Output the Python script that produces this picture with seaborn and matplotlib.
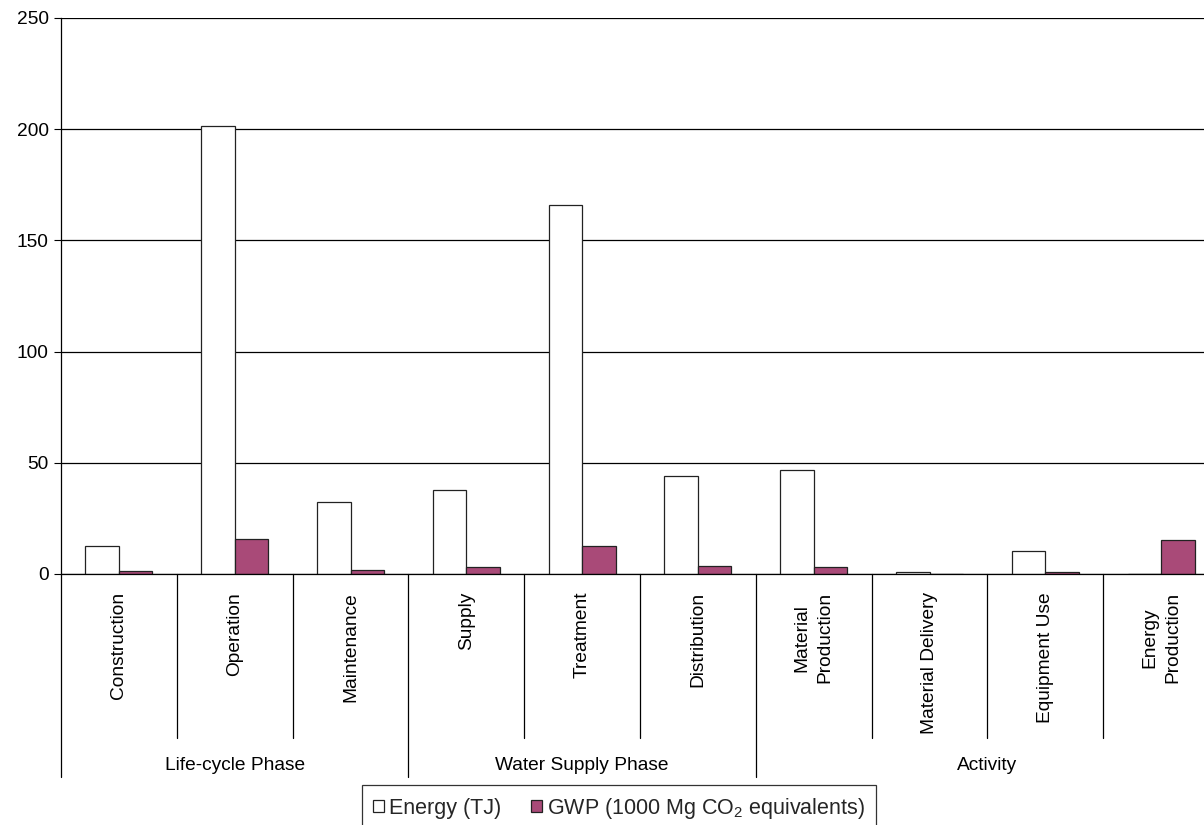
import matplotlib
matplotlib.use("Agg")
import matplotlib.pyplot as plt
import matplotlib.transforms as mtransforms
import seaborn as sns
import pandas as pd

categories = ["Construction", "Operation", "Maintenance", "Supply", "Treatment",
              "Distribution", "Material\nProduction", "Material Delivery",
              "Equipment Use", "Energy\nProduction"]
energy_tj = [12.6, 201.5, 32.3, 37.7, 166.0, 44.0, 46.7, 0.7, 10.2, 0.0]
gwp_1000mg = [1.2, 15.9, 1.8, 3.0, 12.6, 3.6, 3.1, 0.0, 0.7, 15.3]
groups = ["Life-cycle Phase", "Water Supply Phase", "Activity"]
group_spans = [(0, 2), (3, 5), (6, 9)]
series_names = ["Energy (TJ)", "GWP (1000 Mg CO$_2$ equivalents)"]
y_ticks = [0, 50, 100, 150, 200, 250]

sns.set_theme(style="white")
plt.rcParams["font.family"] = ["Liberation Sans", "DejaVu Sans"]
plt.rcParams["mathtext.fontset"] = "custom"
plt.rcParams["mathtext.rm"] = "Liberation Sans"
plt.rcParams["mathtext.it"] = "Liberation Sans:italic"
plt.rcParams["mathtext.bf"] = "Liberation Sans:bold"

PURPLE = "#A94A78"
FS = 13.8

df = pd.DataFrame({
    "category": categories * 2,
    "series": [series_names[0]] * len(categories) + [series_names[1]] * len(categories),
    "value": energy_tj + gwp_1000mg,
})

W, H = 1204, 825
fig = plt.figure(figsize=(W / 100, H / 100), dpi=100)
fig.patch.set_facecolor("white")

ax_left, ax_right, ax_top, ax_bottom = 61, 1219, 18, 574
ax = fig.add_axes([ax_left / W, 1 - ax_bottom / H, (ax_right - ax_left) / W, (ax_bottom - ax_top) / H])

sns.barplot(data=df, x="category", y="value", hue="series", order=categories,
            hue_order=series_names, palette=["white", PURPLE], saturation=1,
            edgecolor="#222222", linewidth=0.9, width=0.58, gap=0,
            ax=ax, legend=False, errorbar=None)

ax.set_xlim(-0.5, len(categories) - 0.5)
ax.set_ylim(0, 250)
ax.set_yticks(y_ticks)
ax.set_xticks([])
ax.set_xlabel("")
ax.set_ylabel("")
ax.tick_params(axis="y", which="both", left=True, length=5, width=0.8, color="black",
               labelsize=FS, labelcolor="black", pad=4)
ax.yaxis.grid(True, color="black", linewidth=0.9)
ax.set_axisbelow(True)
for s in ["top", "right"]:
    ax.spines[s].set_visible(False)
for s in ["left", "bottom"]:
    ax.spines[s].set_visible(True)
    ax.spines[s].set_color("black")
    ax.spines[s].set_linewidth(0.9)

# category axis below the plot
trans = mtransforms.blended_transform_factory(ax.transData, fig.transFigure)
def fy(px):
    return 1 - px / H

for i, lab in enumerate(categories):
    ax.text(i, fy(592), lab, rotation=90, ha="center", va="top", fontsize=FS,
            color="black", transform=trans, multialignment="center", linespacing=1.45)

group_bounds = [s[0] - 0.5 for s in group_spans]
for i in range(len(categories)):
    x = i - 0.5
    bottom = 777 if x in group_bounds else 738
    ax.plot([x, x], [fy(574), fy(bottom)], color="black", linewidth=0.9,
            transform=trans, clip_on=False)

for g, (a, b) in zip(groups, group_spans):
    ax.text((a + b) / 2, fy(766), g, ha="center", va="center", fontsize=FS,
            color="black", transform=trans)

# legend
handles = [plt.Rectangle((0, 0), 1, 1, facecolor="white", edgecolor="#222222", linewidth=0.9),
           plt.Rectangle((0, 0), 1, 1, facecolor=PURPLE, edgecolor="#222222", linewidth=0.9)]
leg = fig.legend(handles, series_names, loc="upper left",
                 bbox_to_anchor=(362 / W, 1 - 785 / H), ncol=2, frameon=True,
                 fancybox=False, edgecolor="black", fontsize=15.5,
                 handlelength=0.5, handleheight=0.5, handletextpad=0.25,
                 columnspacing=1.4, borderpad=0.5, borderaxespad=0)
leg.get_frame().set_linewidth(0.9)

fig.savefig("out.png", dpi=100, facecolor="white")
